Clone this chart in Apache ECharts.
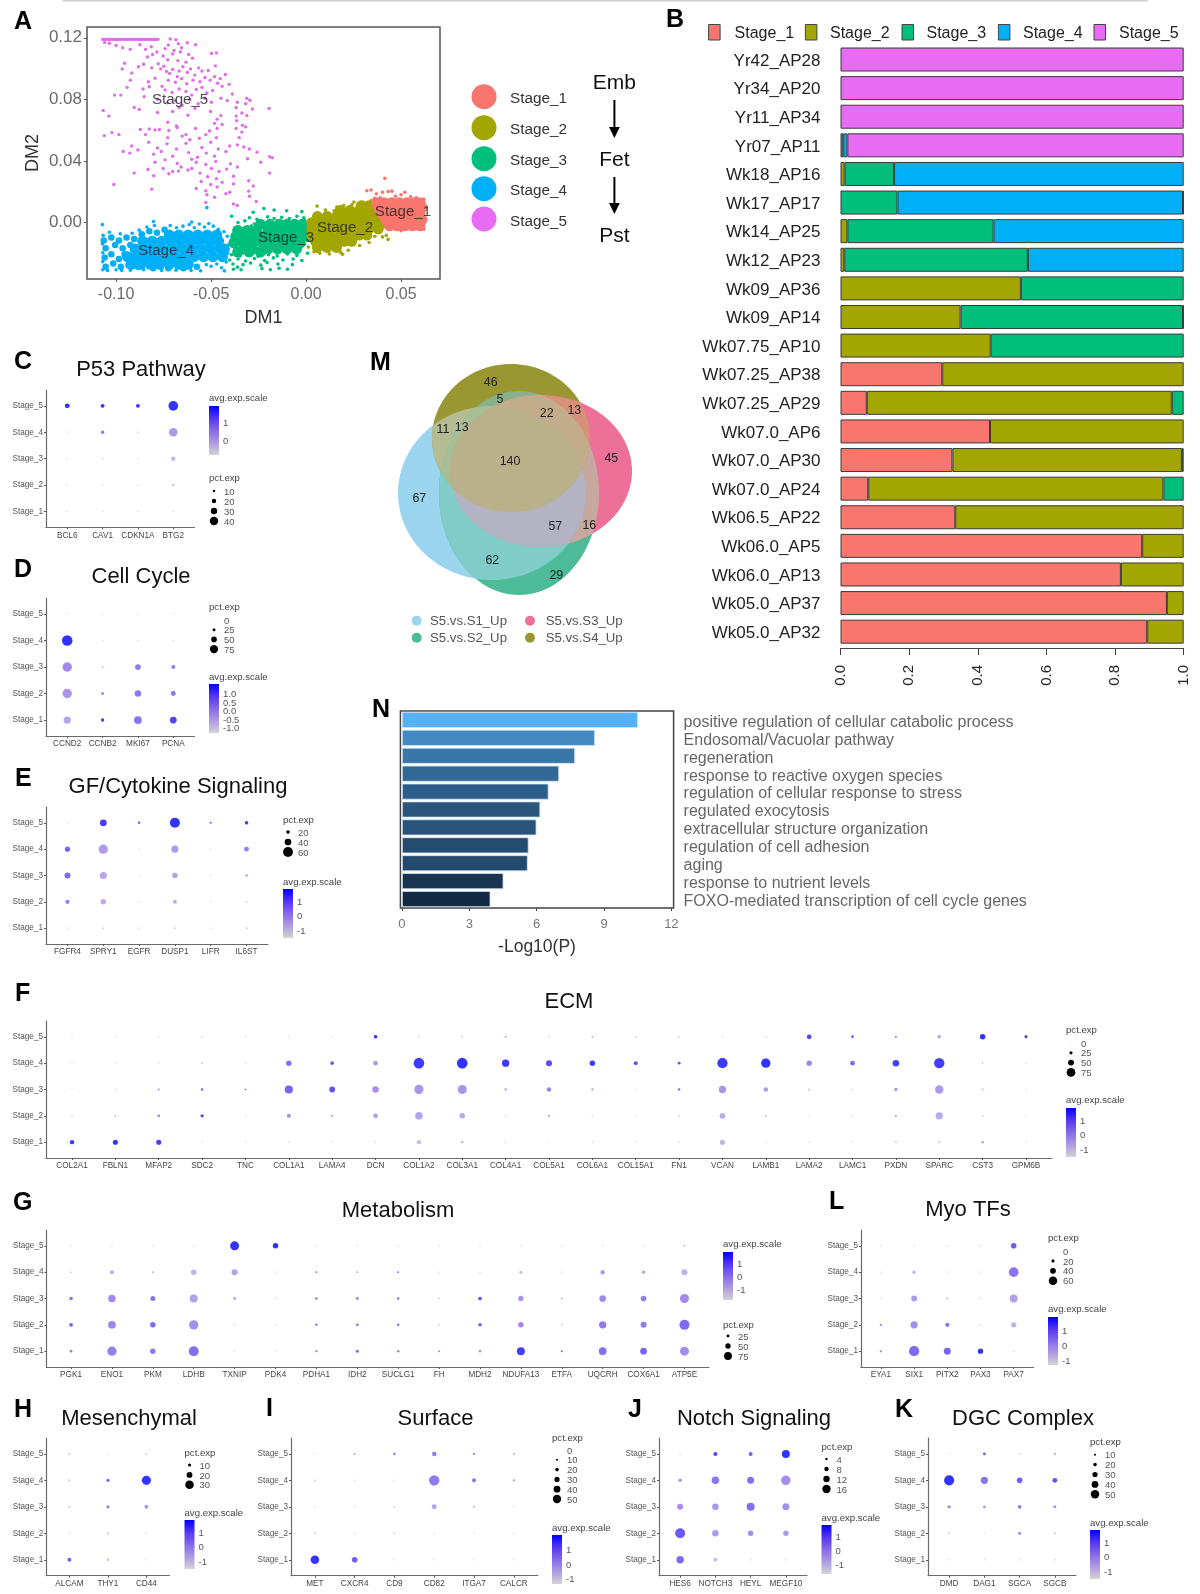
<!DOCTYPE html>
<html><head><meta charset="utf-8">
<style>html,body{margin:0;padding:0;background:#fff}#c{width:1200px;height:1594px}</style>
<script src="https://cdn.jsdelivr.net/npm/echarts@6/dist/echarts.min.js"></script>
</head><body><div id="c"></div>
<script>
// ---------- Panel A: points as [DM1, DM2] ----------
const stage5Top=[-.107,-.1062,-.1055,-.1047,-.104,-.1031,-.1024,-.1016,-.1008,-.1,-.0992,-.0985,-.0977,-.0969,-.096,-.0953,-.0945,-.0938,-.093,-.0921,-.0914,-.0906,-.0898,-.089,-.0882,-.0875,-.0867,-.0859,-.0851,-.0844,-.0836,-.0828,-.082,-.0812,-.0804,-.0796,-.0788,-.078];
const stage5=[[-.106,.117],[-.1035,.1165],[-.1,.115],[-.0965,.1135],[-.0925,.1125],[-.0875,.1155],[-.0845,.1125],[-.0815,.1142],[-.0715,.1192],[-.0725,.1153],[-.0685,.1188],[-.0672,.1162],[-.0655,.1135],[-.0625,.1168],[-.0582,.1155],[-.0695,.1118],[-.0742,.113],[-.0785,.1108],[-.0808,.1092],[-.0835,.1075],[-.0752,.1082],[-.0728,.1058],[-.0702,.1095],[-.0662,.1108],[-.0618,.1092],[-.0598,.1068],[-.0632,.1042],[-.0675,.1052],[-.0498,.1098],[-.0472,.1102],[-.0955,.1035],[-.0968,.0998],[-.0918,.0972],[-.0882,.1012],[-.0855,.1028],[-.0812,.1005],[-.0778,.1032],[-.0765,.0998],[-.0748,.1015],[-.0735,.0982],[-.0718,.0968],[-.0702,.0995],[-.0678,.0948],[-.0668,.0985],[-.0648,.1012],[-.0625,.0975],[-.0608,.0998],[-.0586,.0958],[-.0565,.1005],[-.0548,.0985],[-.0532,.0942],[-.0515,.0988],[-.0478,.1018],[-.0425,.0962],[-.0452,.0935],[-.0482,.0948],[-.0505,.0925],[-.0558,.0915],[-.0595,.0925],[-.0628,.0902],[-.0655,.0935],[-.0688,.0912],[-.0725,.0925],[-.0758,.0885],[-.0795,.0938],[-.083,.0915],[-.0925,.0925],[-.0942,.0878],[-.0858,.0868],[-.0825,.0882],[-.0742,.0862],[-.0705,.0845],[-.0668,.0868],[-.0632,.0852],[-.0602,.0828],[-.0578,.0865],[-.0548,.0878],[-.0522,.0842],[-.0492,.0858],[-.0465,.0905],[-.0442,.0885],[-.0405,.0898],[-.0388,.0835],[-.0415,.0792],[-.0362,.0782],[-.0312,.0808],[-.0296,.0795],[-.0448,.0808],[-.0498,.0782],[-.0532,.0808],[-.0568,.0772],[-.0612,.0798],[-.0652,.0762],[-.0688,.0792],[-.0732,.0778],[-.0782,.0802],[-.0852,.0818],[-.1008,.0828],[-.0975,.0828],[-.0905,.0748],[-.0878,.0735],[-.0702,.0722],[-.0668,.0748],[-.0585,.0742],[-.0502,.0722],[-.0368,.0748],[-.0338,.0712],[-.0318,.0772],[-.0282,.0738],[-.0195,.0742],[-.0312,.0695],[-.0368,.0692],[-.0448,.0695],[-.0468,.0672],[-.0622,.0698],[-.0782,.0715],[-.1068,.0728],[-.1038,.0692],[-.0482,.0645],[-.0442,.0638],[-.0468,.0612],[-.0365,.0662],[-.0335,.0632],[-.0728,.0652],[-.0682,.0628],[-.0872,.0605],[-.0825,.0608],[-.0795,.0602],[-.0772,.0605],[-.0722,.0598],[-.0678,.0618],[-.0632,.0572],[-.0582,.0612],[-.0508,.0595],[-.0368,.0612],[-.0338,.0588],[-.0318,.0622],[-.0352,.0552],[-.1062,.0565],[-.1022,.0585],[-.0985,.0572],[-.0845,.0572],[-.0728,.0552],[-.0652,.0562],[-.0612,.0538],[-.0562,.0548],[-.0528,.0572],[-.0472,.0552],[-.0362,.0505],[-.0328,.0492],[-.0298,.0478],[-.0918,.0498],[-.0828,.0522],[-.0782,.0485],[-.0732,.0512],[-.0682,.0478],[-.0632,.0515],[-.0548,.0488],[-.0502,.0522],[-.0462,.0478],[-.0402,.0498],[-.0962,.0462],[-.0928,.0452],[-.0885,.0472],[-.0802,.0445],[-.0762,.0462],[-.0702,.0432],[-.0618,.0455],[-.0572,.0425],[-.0525,.0452],[-.0482,.0432],[-.0422,.0462],[-.0258,.0458],[-.0192,.0428],[-.0795,.0392],[-.0742,.0408],[-.0678,.0385],[-.0602,.0412],[-.0578,.0392],[-.0528,.0378],[-.0475,.0398],[-.0398,.0382],[-.0308,.0415],[-.0238,.0392],[-.0178,.0422],[-.0832,.0345],[-.0752,.0352],[-.0702,.0332],[-.0658,.0362],[-.0622,.0342],[-.0558,.0322],[-.0498,.0352],[-.0458,.0332],[-.0418,.0348],[-.0362,.0362],[-.0905,.0322],[-.0802,.0305],[-.0722,.0318],[-.0672,.0335],[-.0602,.0352],[-.0518,.0298],[-.0472,.0285],[-.0382,.0302],[-.0192,.0322],[-.0302,.0272],[-.1012,.0248],[-.0552,.0268],[-.0502,.0248],[-.0442,.0262],[-.0382,.0252],[-.0278,.0238],[-.0812,.0218],[-.0578,.0222],[-.0528,.0208],[-.0468,.0232],[-.0402,.0198],[-.0302,.0205],[-.0522,.0182],[-.0482,.0165],[-.0422,.0188],[-.0298,.0172],[-.0528,.0132],[-.0382,.0122],[-.0362,.0112],[-.0262,.0138]];
const stage4Core=[
[-.027,-.092,-.087,-.082,-.077,-.072,-.067,-.062],
[-.022,-.094,-.089,-.084,-.079,-.074,-.069,-.064,-.059,-.054,-.049,-.044],
[-.017,-.09,-.085,-.08,-.075,-.07,-.065,-.06,-.055,-.05,-.045,-.043],
[-.012,-.086,-.081,-.076,-.071,-.066,-.061,-.056,-.051,-.046],
[-.008,-.072,-.067,-.062,-.057,-.052,-.047]];
const stage4Mid=[[-.1055,-.0285],[-.1015,-.0265],[-.0975,-.0285],[-.0935,-.0275],[-.106,-.0225],[-.1025,-.0205],[-.0985,-.0235],[-.0955,-.0205],[-.1055,-.0165],[-.1005,-.0145],[-.0965,-.0165],[-.0925,-.0145],[-.1065,-.0115],[-.1025,-.0095],[-.0985,-.0115],[-.0945,-.0095],[-.0905,-.0105],[-.0865,-.0075],[-.0825,-.0055],[-.0785,-.0065],[-.0745,-.0045],[-.0885,-.0285],[-.0805,-.0295],[-.0725,-.0295],[-.0645,-.0295],[-.0575,-.0285]];
const stage4Dots=[[-.107,-.0305],[-.1045,-.031],[-.1,-.0305],[-.097,-.031],[-.0925,-.0308],[-.0855,-.0305],[-.076,-.031],[-.0685,-.0308],[-.0605,-.031],[-.0555,-.0312],[-.0525,-.0272],[-.05,-.0282],[-.047,-.0268],[-.0445,-.0292],[-.043,-.0312],[-.042,-.0255],[-.107,-.0252],[-.107,-.0195],[-.1072,-.0138],[-.1068,-.0082],[-.1035,-.0062],[-.0978,-.0072],[-.0915,-.0068],[-.0878,-.0048],[-.0838,-.0028],[-.0798,-.0018],[-.0715,-.0018],[-.0682,-.0032],[-.0648,-.0022],[-.0615,-.0012],[-.0588,-.0032],[-.0562,-.0008],[-.0535,-.0028],[-.0512,-.0005],[-.0488,-.0022],[-.0462,-.0042],[-.0432,-.0058],[-.0415,-.0088],[-.041,-.0145],[-.0412,-.0198],[-.1072,-.0012],[-.0803,.0008],[-.0602,.0005],[-.0522,.0098]];
const stage3Core=[
[-.019,-.036,-.03,-.024],
[-.017,-.033,-.028,-.02,-.015,-.01,-.005],
[-.013,-.038,-.033,-.028,-.023,-.018,-.013,-.008,-.003],
[-.009,-.037,-.032,-.027,-.022,-.017,-.012,-.007,-.002,.001],
[-.005,-.036,-.031,-.026,-.02,-.015,-.01,-.005,-.001],
[-.001,-.024,-.019,-.014,-.01,-.006,-.002]];
const stage3Dots=[[-.0382,-.0302],[-.0361,-.0288],[-.0342,-.0305],[-.0232,-.0298],[-.0188,-.0305],[-.0142,-.0295],[-.0098,-.0302],[-.0385,-.0268],[-.0332,-.0272],[-.0292,-.0262],[-.0238,-.0275],[-.0205,-.0258],[-.0148,-.0268],[-.0072,-.0272],[-.0402,-.0242],[-.0358,-.0235],[-.0318,-.0248],[-.0272,-.0232],[-.0218,-.0245],[-.0172,-.0228],[-.0122,-.0242],[-.0068,-.0235],[-.0022,-.0245],[-.0392,-.0208],[-.0348,-.0215],[-.0298,-.0205],[-.0252,-.0218],[-.0198,-.0208],[-.0152,-.0215],[-.0098,-.0202],[-.0048,-.0212],[.0008,-.0198],[-.0352,-.0028],[-.0328,-.0038],[-.0288,-.0022],[-.0242,-.0032],[-.0202,-.0018],[.0012,-.0028],[-.0358,.0002],[-.0322,.0012],[-.0272,-.0008],[-.0232,.0008],[-.0188,.0005],[-.0152,.0012],[-.0008,.0018],[-.0392,.0042],[-.0298,.0032],[-.0258,.0022],[-.0202,.0038],[-.0168,.0028],[-.0128,.0035],[-.0088,.0028],[-.0048,.0042],[-.0012,.0032],[-.0278,.0068],[-.0222,.0092],[-.0168,.0082],[-.0102,.0078],[-.0022,.0072]];
const stage2Core=[
[-.016,.006,.011,.016],
[-.012,.005,.01,.015,.02,.024],
[-.008,.003,.008,.013,.018,.023,.028,.032],
[-.004,.003,.008,.013,.018,.023,.028,.033,.038],
[0,.003,.008,.013,.018,.023,.028,.033,.038,.041],
[.004,.006,.011,.016,.021,.026,.031,.036,.04],
[.008,.018,.023,.028,.033,.037],
[.011,.029,.033,.036]];
const stage2Dots=[[.0058,.0108],[.0162,.0102],[.0198,.0112],[.0242,.0118],[.0102,.0082],[.0148,.0078],[.0122,.0062],[.0252,.0135],[.0302,.0132],[.0342,.0142],[.0362,-.0088],[.0402,-.0092],[.0422,-.0082],[.0432,-.0108],[.0332,-.0128],[.0282,-.0148],[.0222,-.0178],[.0182,-.0192],[.0042,-.0188],[.0122,-.0202],[.0072,-.0198],[.0192,-.0205],[.0012,-.0158],[.0442,-.0038],[.0445,-.0008]];
const stage1Core=[
[-.002,.044,.048,.052,.056,.06],
[.002,.042,.046,.05,.054,.058,.061],
[.006,.04,.044,.048,.052,.056,.06],
[.01,.038,.042,.046,.05,.054,.058,.061],
[.013,.037,.041,.045,.049,.053,.057,.06]];
const stage1Dots=[[.0415,.0288],[.032,.0208],[.0342,.0212],[.037,.0188],[.0402,.0198],[.0432,.0202],[.0452,.0205],[.052,.0198],[.047,.0172],[.055,.0168],[.05,.0182],[.039,.0162],[.036,.0158],[.058,.0162],[.062,.0152],[.063,.0022],[.062,-.0042],[.058,-.0038],[.047,-.0042],[.05,-.0052]];
const stageNames=['Stage_1','Stage_2','Stage_3','Stage_4','Stage_5'];
const stageColors=['#F8766D','#A3A500','#00BF7D','#00B0F6','#E76BF3'];
const clusterLabels=[[.0510,.0069],[.0205,-.0033],[-.0105,-.0097],[-.0737,-.0181],[-.0663,.0796]];

// ---------- Panel B ----------
const samples=['Yr42_AP28','Yr34_AP20','Yr11_AP34','Yr07_AP11','Wk18_AP16','Wk17_AP17','Wk14_AP25','Wk12_AP23','Wk09_AP36','Wk09_AP14','Wk07.75_AP10','Wk07.25_AP38','Wk07.25_AP29','Wk07.0_AP6','Wk07.0_AP30','Wk07.0_AP24','Wk06.5_AP22','Wk06.0_AP5','Wk06.0_AP13','Wk05.0_AP37','Wk05.0_AP32'];
const frac1=[0,0,0,0,0,0,0,0,0,0,0,.2965,.0767,.4356,.326,.0808,.3344,.879,.817,.951,.8937];
const frac2=[0,0,0,0,.012,0,.02,.011,.5255,.35,.4376,.7035,.8885,.5644,.6687,.86,.6656,.121,.183,.049,.1063];
const frac3=[0,0,0,.008,.144,.166,.426,.535,.4745,.648,.5624,0,.0348,0,.0053,.0592,0,0,0,0,0];
const frac4=[0,0,0,.012,.844,.832,.554,.454,0,.002,0,0,0,0,0,0,0,0,0,0,0];
const frac5=[1,1,1,.98,0,.002,0,0,0,0,0,0,0,0,0,0,0,0,0,0,0];

// ---------- Panel M ----------
const vennCounts=['46','5','22','13','11','13','140','45','67','57','16','62','29'];
const vennNames=['S5.vs.S1_Up','S5.vs.S2_Up','S5.vs.S3_Up','S5.vs.S4_Up'];

// ---------- Panel N ----------
const terms=['positive regulation of cellular catabolic process','Endosomal/Vacuolar pathway','regeneration','response to reactive oxygen species','regulation of cellular response to stress','regulated exocytosis','extracellular structure organization','regulation of cell adhesion','aging','response to nutrient levels','FOXO-mediated transcription of cell cycle genes'];
const logP=[10.51,8.6,7.71,7.0,6.53,6.16,5.99,5.64,5.6,4.52,3.94];

// ---------- Dot plots: rows run Stage_5 down to Stage_1 ----------
const C_genes=['BCL6','CAV1','CDKN1A','BTG2'];
const C_pct=[[22,17,17,46],[2,14,4,40],[1,4,2,20],[1,1,1,10],[1,2,1,4]];
const C_avg=[[1.7,1.7,1.7,1.7],[-1,.5,-.5,-.1],[-1,-.9,-1,-.6],[-1,-1,-1,-.8],[-1,-1,-1,-1]];
const D_genes=['CCND2','CCNB2','MKI67','PCNA'];
const D_pct=[[3,3,3,4],[95,3,6,5],[85,12,50,32],[85,22,58,42],[65,28,70,60]];
const D_avg=[[-1.1,-1.1,-1.1,-1.1],[1.7,-1,-1,-1],[.2,-.6,.5,.5],[0,.5,.5,.6],[-.3,1.5,.6,1.4]];
const E_genes=['FGFR4','SPRY1','EGFR','DUSP1','LIFR','IL6ST'];
const E_pct=[[4,40,12,60,10,20],[30,55,4,42,3,28],[35,42,3,32,3,14],[24,32,3,22,3,8],[3,8,2,8,2,10]];
const E_avg=[[-.9,1.5,1.1,1.7,1.2,1.5],[.9,-.1,-1,-.1,-1,.4],[.8,-.3,-1,-.3,-1,-.2],[.4,-.4,-1,-.4,-1,-.8],[-1,-.9,-1,-.9,-1,-.9]];
const F_genes=['COL2A1','FBLN1','MFAP2','SDC2','TNC','COL1A1','LAMA4','DCN','COL1A2','COL3A1','COL4A1','COL5A1','COL6A1','COL15A1','FN1','VCAN','LAMB1','LAMA2','LAMC1','PXDN','SPARC','CST3','GPM6B'];
const F_pct=[
[1,2,1,8,1,2,2,28,8,10,14,6,12,10,6,1,4,38,22,15,28,45,22],
[1,4,3,10,4,45,28,38,92,92,62,50,45,30,22,88,80,45,38,55,90,10,2],
[3,8,14,18,10,70,48,55,80,78,16,35,16,3,18,62,38,12,10,26,72,12,8],
[6,10,20,26,4,32,14,40,65,45,3,14,4,2,10,48,12,3,3,16,62,10,6],
[35,42,42,8,2,3,3,5,34,16,3,3,3,2,2,42,4,1,2,12,16,18,4]];
const F_avg=[
[-1,-1,-1,-.7,-1,-1,-1,1.7,-.6,-.5,-.1,-.7,-.3,-.5,-.6,-1,-.9,1.4,.9,.5,-.2,1.7,1.7],
[-1,-1,-1,-.5,-1,.7,1.1,-.1,1.6,1.7,1.6,1.3,1.6,1.3,1.2,1.6,1.7,.3,.8,1.5,1.5,-.7,-1],
[-1,-.7,.1,.9,1.5,.9,1.2,.1,0,0,.1,.4,-.2,-1,.7,0,-.1,-.7,-.6,0,-.1,-.7,-.8],
[-.6,-.2,.3,1.4,-1,.2,.1,-.2,-.3,-.3,-1,.1,-.9,-1,-.6,-.4,-.3,-1,-1,-.2,-.4,-.7,-.9],
[1.6,1.7,1.5,-1,-1,-1,-1,-1,-.6,-.2,-1,-1,-1,-1,-1,-.5,-1,-1,-1,-.8,-.9,-.1,-1]];
const G_genes=['PGK1','ENO1','PKM','LDHB','TXNIP','PDK4','PDHA1','IDH2','SUCLG1','FH','MDH2','NDUFA13','ETFA','UQCRH','COX6A1','ATP5E'];
const G_pct=[
[2,4,3,5,85,50,2,2,1,1,2,8,1,4,5,18],
[10,35,15,50,55,4,16,14,14,5,8,25,3,40,28,55],
[30,70,45,75,28,2,22,24,22,12,32,48,12,62,52,85],
[32,72,50,88,8,2,20,24,20,10,30,50,8,68,55,95],
[22,88,50,95,4,1,18,26,20,15,22,75,14,72,62,85]];
const G_avg=[
[-1,-1,-1,-1,1.7,1.7,-1,-1,-1,-1,-1,-1,-1,-1,-1,-.8],
[-.6,-.4,-.5,-.5,-.2,-1,.3,-.2,.7,-1,-.9,-.6,-1,-.1,-.2,-.5],
[.6,.2,.6,-.2,-.5,-1,.5,.4,.6,-.7,1.2,0,-.1,.2,.4,.2],
[1,.3,.8,.1,-.9,-1,.5,.5,.6,-.5,1,.2,-.5,.5,.5,.8],
[.4,.4,.5,.7,-1,-1,.4,.8,.4,.3,-.1,1.5,1,.7,.9,.1]];
const H_genes=['ALCAM','THY1','CD44'];
const H_pct=[[6,1,6],[6,10,32],[6,10,13],[4,6,3],[13,8,1]];
const H_avg=[[-.9,-1,-1],[-.9,.9,1.7],[-.9,.5,0],[-1,-.9,-1],[1,-.7,-1]];
const I_genes=['MET','CXCR4','CD9','CD82','ITGA7','CALCR'];
const I_pct=[[3,8,10,25,10,8],[8,6,4,62,22,10],[3,2,8,28,10,2],[8,5,8,6,2,1],[50,32,1,1,1,1]];
const I_avg=[[-1,.1,1.1,.5,.5,0],[-.8,-1,-1,.5,.6,.1],[-1,-1,-.8,-.3,-.6,-1],[-.8,-1,-.8,-1,-1,-1],[1.7,1,-1,-1,-1,-1]];
const J_genes=['HES6','NOTCH3','HEYL','MEGF10'];
const J_pct=[[1,7,7,15],[6,14,13,18],[11,12,15,13],[19,12,10,10],[14,7,1,2]];
const J_avg=[[-1,1.4,1,1.7],[0,.6,.7,.1],[.1,0,.7,.1],[1.1,-.1,.1,-.1],[.8,-.7,-1,-1]];
const K_genes=['DMD','DAG1','SGCA','SGCB'];
const K_pct=[[5,15,6,10],[60,42,32,27],[18,14,20,15],[8,4,16,8],[4,1,1,6]];
const K_avg=[[-1,1,-.6,-.3],[1.7,.6,1,1.2],[.2,.2,.5,.3],[-.8,-1,.3,-.6],[-1,-1,-1,-.8]];
const L_genes=['EYA1','SIX1','PITX2','PAX3','PAX7'];
const L_pct=[[1,8,2,1,38],[1,22,6,1,68],[5,40,12,2,55],[14,50,28,8,36],[14,72,48,36,3]];
const L_avg=[[-1,-.9,-1,-1,1],[-1,-.6,-1,-1,.6],[-1,-.1,-.7,-1,-.2],[.1,.1,.6,-.9,-.5],[-.1,.8,.9,1.7,-1]];

// ---------- Layout of the dot plots ----------
const FONT='"Liberation Sans",Arial,sans-serif';
const dotPanels=[
 {genes:C_genes,pct:C_pct,avg:C_avg,k:.2,box:[46,390,194.5,527.3],title:'P53 Pathway',tx:141,ty:369,letter:'C',lx:14,ly:360,
  pctVals:[10,20,30,40],pctTop:[477,491],pctStep:10,lgx:209,avgTitle:397,bar:[406,455],avgLabels:[['1',422],['0',440]]},
 {genes:D_genes,pct:D_pct,avg:D_avg,k:.105,box:[46,598,194.5,736],title:'Cell Cycle',tx:141,ty:576,letter:'D',lx:14,ly:568,
  pctVals:[0,25,50,75],pctTop:[606,620],pctStep:9.7,lgx:209,avgTitle:676,bar:[684,733],avgLabels:[['1.0',693],['0.5',702],['0.0',710],['-0.5',719],['-1.0',727]]},
 {genes:E_genes,pct:E_pct,avg:E_avg,k:.158,box:[46,807,268,944],title:'GF/Cytokine Signaling',tx:178,ty:786,letter:'E',lx:15,ly:777,
  pctVals:[20,40,60],pctTop:[819,832],pctStep:10,lgx:283,avgTitle:881,bar:[889,938],avgLabels:[['1',901],['0',915],['-1',930]]},
 {genes:F_genes,pct:F_pct,avg:F_avg,k:.11,box:[46,1021,1052,1158],title:'ECM',tx:569,ty:1001,letter:'F',lx:15,ly:992,
  pctVals:[0,25,50,75],pctTop:[1029,1043],pctStep:9.8,lgx:1066,avgTitle:1099,bar:[1108,1157],avgLabels:[['1',1120],['0',1134.7],['-1',1149]]},
 {genes:G_genes,pct:G_pct,avg:G_avg,k:.1,box:[46.5,1230,709,1367],title:'Metabolism',tx:398,ty:1210,letter:'G',lx:13,ly:1201,
  pctVals:[25,50,75],pctTop:[1324,1336],pctStep:10,lgx:723,avgTitle:1243,bar:[1252,1300],avgLabels:[['1',1263],['0',1276],['-1',1289]]},
 {genes:H_genes,pct:H_pct,avg:H_avg,k:.27,box:[46.3,1438,169.5,1575.7],title:'Mesenchymal',tx:129,ty:1418,letter:'H',lx:14,ly:1408,
  pctVals:[10,20,30],pctTop:[1452,1465],pctStep:9.9,lgx:184.5,avgTitle:1512,bar:[1520,1569],avgLabels:[['1',1532],['0',1546],['-1',1561]]},
 {genes:I_genes,pct:I_pct,avg:I_avg,k:.16,box:[291,1438,537.7,1575.7],title:'Surface',tx:435.5,ty:1418,letter:'I',lx:266,ly:1407,
  pctVals:[0,10,20,30,40,50],pctTop:[1437,1450],pctStep:9.8,lgx:552,avgTitle:1527,bar:[1535,1584],avgLabels:[['1',1549],['0',1564],['-1',1578]]},
 {genes:J_genes,pct:J_pct,avg:J_avg,k:.5,box:[659,1438,807,1575.7],title:'Notch Signaling',tx:754,ty:1418,letter:'J',lx:628,ly:1408,
  pctVals:[4,8,12,16],pctTop:[1446,1459],pctStep:10,lgx:821.5,avgTitle:1517,bar:[1525,1574],avgLabels:[['1',1536],['0',1550],['-1',1564]]},
 {genes:K_genes,pct:K_pct,avg:K_avg,k:.16,box:[928,1438,1076,1575.7],title:'DGC Complex',tx:1023,ty:1418,letter:'K',lx:895,ly:1408,
  pctVals:[10,20,30,40,50],pctTop:[1441,1454.7],pctStep:9.9,lgx:1090,avgTitle:1522,bar:[1530,1579],avgLabels:[['1',1542],['0',1556],['-1',1571]]},
 {genes:L_genes,pct:L_pct,avg:L_avg,k:.135,box:[861,1230,1033.6,1367],title:'Myo TFs',tx:968,ty:1209,letter:'L',lx:829,ly:1200,
  pctVals:[0,20,40,60],pctTop:[1237,1251],pctStep:9.9,lgx:1048,avgTitle:1308,bar:[1317,1365],avgLabels:[['1',1330],['0',1345],['-1',1360]]}
];

// ---------- Helpers ----------
const rowsToPts=r=>r.flatMap(row=>row.slice(1).map(x=>[x,row[0]]));
const stops=[[0,[211,211,211]],[.25,[175,155,225]],[.5,[135,105,232]],[.75,[85,55,240]],[1,[0,0,255]]];
function avgColor(a){
  const t=Math.min(1,Math.max(0,(a+1.2)/2.9));
  for(let i=1;i<stops.length;i++) if(t<=stops[i][0]){
    const [t0,c0]=stops[i-1],[t1,c1]=stops[i],f=(t-t0)/(t1-t0);
    return 'rgb('+c0.map((c,j)=>Math.round(c+(c1[j]-c)*f)).join(',')+')';
  }
  return 'rgb(0,0,255)';
}
const gfx=[];
function T(x,y,text,o){o=o||{};gfx.push({type:'text',x,y:y+1,z:o.z||10,silent:true,style:{text,fontFamily:FONT,fontSize:o.size||9.5,fontWeight:o.weight||'normal',fill:o.color||'#444',align:o.align||'left',verticalAlign:'middle'}});}
function dot(x,y,d,c,op){gfx.push({type:'circle',silent:true,z:10,shape:{cx:x,cy:y,r:d/2},style:{fill:c,opacity:op==null?1:op}});}
function letter(t,x,y){T(x,y+1,t,{size:25,weight:'bold',color:'#000'});}

const grids=[],xAxes=[],yAxes=[],series=[],titles=[];
function addAxes(grid,x,y){grids.push(grid);const i=grids.length-1;x.gridIndex=i;y.gridIndex=i;xAxes.push(x);yAxes.push(y);return i;}

// ---------- Panel A ----------
(function(){
 const i=addAxes({left:87,top:27,width:353,height:252,show:true,borderColor:'#555',borderWidth:1.5,backgroundColor:'#fff'},
  {type:'value',min:-.1153,max:.0705,name:'DM1',nameLocation:'middle',nameGap:30,nameTextStyle:{fontSize:18,color:'#333',fontFamily:FONT},
   splitLine:{show:false},axisLine:{show:false,onZero:false},axisTick:{show:true,length:3,lineStyle:{color:'#555'},customValues:[-.1,-.05,0,.05]},
   axisLabel:{customValues:[-.1,-.05,0,.05],formatter:v=>v.toFixed(2),fontSize:16,color:'#6a6a6a',fontFamily:FONT,margin:8}},
  {type:'value',min:-.0365,max:.127,name:'DM2',nameLocation:'middle',nameGap:45,nameTextStyle:{fontSize:18,color:'#333',fontFamily:FONT},
   splitLine:{show:false},axisLine:{show:false,onZero:false},axisTick:{show:true,length:3,lineStyle:{color:'#555'},customValues:[0,.04,.08,.12]},
   axisLabel:{customValues:[0,.04,.08,.12],formatter:v=>v.toFixed(2),fontSize:17,color:'#6a6a6a',fontFamily:FONT,margin:5}});
 const sc=(name,data,col,size)=>series.push({type:'scatter',name,xAxisIndex:i,yAxisIndex:i,data,symbolSize:size,itemStyle:{color:col,opacity:1},silent:true,animation:false,z:3});
 sc('S4 dense',rowsToPts(stage4Core),stageColors[3],11);sc('S4 mid',stage4Mid,stageColors[3],6.5);sc('S4',stage4Dots,stageColors[3],3.6);
 sc('S3 dense',rowsToPts(stage3Core),stageColors[2],11);sc('S3',stage3Dots,stageColors[2],3.6);
 sc('S2 dense',rowsToPts(stage2Core),stageColors[1],11);sc('S2',stage2Dots,stageColors[1],3.6);
 sc('S1 dense',rowsToPts(stage1Core),stageColors[0],11);sc('S1',stage1Dots,stageColors[0],3.6);
 sc('S5 top',stage5Top.map(x=>[x,.119]),'#E06EEA',3.4);
 sc('S5',stage5,'#E06EEA',3.4);
 series.push({type:'scatter',xAxisIndex:i,yAxisIndex:i,symbolSize:0,silent:true,animation:false,z:5,
  data:clusterLabels.map((p,j)=>({value:p,name:stageNames[j]})),
  label:{show:true,position:'inside',formatter:'{b}',fontSize:15.1,color:'#222',fontFamily:FONT}});
 letter('A',14,20);
 const ly=[96.7,127.7,158.7,188.7,219];
 stageNames.forEach((n,j)=>{dot(484,ly[j],25,stageColors[j]);T(510,ly[j]+1.5,n,{size:15.3,color:'#333'});});
 T(614.4,82.7,'Emb',{size:21,color:'#111',align:'center'});T(614.4,159.7,'Fet',{size:21,color:'#111',align:'center'});T(614.4,235,'Pst',{size:21,color:'#111',align:'center'});
 [[100,137],[177,213]].forEach(([a,b])=>{
  gfx.push({type:'line',silent:true,shape:{x1:614.4,y1:a,x2:614.4,y2:b-4},style:{stroke:'#000',lineWidth:2}});
  gfx.push({type:'polygon',silent:true,shape:{points:[[609,b-10],[619.8,b-10],[614.4,b+1]]},style:{fill:'#000'}});
 });
})();

// ---------- Panel B ----------
(function(){
 const i=addAxes({left:840.5,top:45.2,width:343.2,height:600.8},
  {type:'value',min:0,max:1,interval:.2,splitLine:{show:false},position:'bottom',offset:2,
   axisLine:{show:true,onZero:false,lineStyle:{color:'#444'}},axisTick:{show:true,length:7,lineStyle:{color:'#444'}},
   axisLabel:{rotate:90,fontSize:15,color:'#222',fontFamily:FONT,margin:17,formatter:v=>v.toFixed(1),showMinLabel:true,showMaxLabel:true}},
  {type:'category',inverse:true,data:samples,axisLine:{show:false,onZero:false},axisTick:{show:false},
   axisLabel:{margin:20,interval:0,formatter:v=>'{t|'+v+'}',rich:{t:{fontSize:17,color:'#222',fontFamily:FONT,padding:[3,0,0,0]}}}});
 [frac1,frac2,frac3,frac4,frac5].forEach((f,j)=>series.push({type:'bar',name:stageNames[j],stack:'s',xAxisIndex:i,yAxisIndex:i,barWidth:24,
  data:f.map(v=>v===0?null:v),itemStyle:{color:stageColors[j],borderColor:'#3a3a3a',borderWidth:1},silent:true,animation:false}));
 letter('B',666,18);
 const sx=[708.6,805.4,902,998.4,1094],tx=[734.6,830,926.5,1023,1119];
 stageNames.forEach((n,j)=>{
  gfx.push({type:'rect',silent:true,shape:{x:sx[j],y:24.5,width:11.5,height:15.5},style:{fill:stageColors[j],stroke:'#444',lineWidth:1}});
  T(tx[j],33,n,{size:16,color:'#222'});
 });
})();

// ---------- Panel N ----------
(function(){
 const i=addAxes({left:400.4,top:711,width:273.2,height:197,show:true,borderColor:'#444',borderWidth:1.5},
  {type:'value',min:-.07,max:12.1,name:'-Log10(P)',nameLocation:'middle',nameGap:30,nameTextStyle:{fontSize:17.5,color:'#333',fontFamily:FONT},
   splitLine:{show:false},axisLine:{show:false,onZero:false},axisTick:{show:true,length:3,lineStyle:{color:'#444'},customValues:[0,3,6,9,12]},
   axisLabel:{customValues:[0,3,6,9,12],fontSize:13,color:'#777',fontFamily:FONT,margin:10}},
  {type:'category',inverse:true,data:terms,position:'right',axisLine:{show:false,onZero:false},axisTick:{show:false},
   axisLabel:{align:'left',margin:10,interval:0,formatter:v=>'{t|'+v+'}',rich:{t:{fontSize:16,color:'#666',fontFamily:FONT,padding:[5,0,0,0]}}}});
 const lo=Math.min(...logP),hi=Math.max(...logP);
 const mix=v=>{const f=(v-lo)/(hi-lo);const a=[19,40,65],b=[86,177,247];return 'rgb('+a.map((c,j)=>Math.round(c+(b[j]-c)*f)).join(',')+')';};
 series.push({type:'bar',xAxisIndex:i,yAxisIndex:i,barWidth:16,silent:true,animation:false,
  data:logP.map(v=>({value:v,itemStyle:{color:mix(v),borderColor:'#cfe3f2',borderWidth:.8}}))});
 letter('N',372,708);
})();

// ---------- Dot plots ----------
dotPanels.forEach(p=>{
 const [x0,y0,x1,y1]=p.box,n=p.genes.length;
 const xs=p.genes.map((_,j)=>j);
 const i=addAxes({left:x0,top:y0,width:x1-x0,height:y1-y0},
  {type:'value',min:-.6,max:n-.4,splitLine:{show:false},
   axisLine:{show:true,onZero:false,lineStyle:{color:'#6a6a6a',width:1.2}},axisTick:{show:true,length:2,lineStyle:{color:'#555'},customValues:xs},
   axisLabel:{customValues:xs,formatter:v=>p.genes[v],fontSize:8.2,color:'#444',fontFamily:FONT,margin:4}},
  {type:'value',min:-.6,max:4.6,splitLine:{show:false},
   axisLine:{show:true,onZero:false,lineStyle:{color:'#6a6a6a',width:1.2}},axisTick:{show:true,length:2,lineStyle:{color:'#555'},customValues:[0,1,2,3,4]},
   axisLabel:{customValues:[0,1,2,3,4],formatter:v=>stageNames[v],fontSize:8.2,color:'#555',fontFamily:FONT,margin:3}});
 const data=[];
 p.pct.forEach((row,r)=>row.forEach((v,c)=>data.push({value:[c,4-r,v,p.avg[r][c]],itemStyle:{color:avgColor(p.avg[r][c])}})));
 series.push({type:'scatter',xAxisIndex:i,yAxisIndex:i,data,symbolSize:v=>Math.max(1.5,v[2]*p.k+.5),silent:true,animation:false,clip:false,z:4});
 titles.push({text:p.title,left:p.tx,top:p.ty+1,textAlign:'center',textVerticalAlign:'middle',padding:0,textStyle:{fontSize:22,fontWeight:'normal',color:'#111',fontFamily:FONT}});
 letter(p.letter,p.lx,p.ly);
 // colour bar legend
 T(p.lgx,p.avgTitle,'avg.exp.scale',{size:9.6});
 gfx.push({type:'rect',silent:true,shape:{x:p.lgx,y:p.bar[0],width:10,height:p.bar[1]-p.bar[0]},
  style:{fill:new echarts.graphic.LinearGradient(0,0,0,1,[{offset:0,color:'#0000ff'},{offset:.25,color:'#5537f0'},{offset:.5,color:'#8769e8'},{offset:.75,color:'#af9be1'},{offset:1,color:'#d3d3d3'}])}});
 p.avgLabels.forEach(([t,y])=>T(p.lgx+14,y,t,{size:9.5,color:'#555'}));
 // size legend
 T(p.lgx,p.pctTop[0],'pct.exp',{size:9.6});
 p.pctVals.forEach((v,j)=>{const y=p.pctTop[1]+j*p.pctStep;
  dot(p.lgx+5,y,Math.max(.9,v*p.k+.4),v===0?'#bbb':'#000');T(p.lgx+15,y,String(v),{size:9.5,color:'#555'});});
});

// ---------- Panel M text ----------
letter('M',370,361);
const vennXY=[[490.7,381.7],[500,399],[546.7,412.3],[574.3,410],[443,428.3],[461.7,426.7],[510,461],[611.3,457.3],[419.3,498],[555.3,525.3],[589.3,525],[492.3,559.3],[556.3,575]];
vennCounts.forEach((c,j)=>T(vennXY[j][0],vennXY[j][1],c,{size:12.4,color:'#222',align:'center',z:20}));
[[416.7,620.7,'#9AD4EE',430,0],[416.7,637.7,'#4DBB98',430,1],[530,620.7,'#EC7098',545.7,2],[530,637.7,'#9A9732',545.7,3]].forEach(([x,y,c,tx,j])=>{dot(x,y,10,c);T(tx,y,vennNames[j],{size:13.2,color:'#555'});});
// cropped rule at the very top of the page
gfx.push({type:'rect',silent:true,shape:{x:63,y:0,width:1085,height:1.6},style:{fill:'#ccc'}});

const chart=echarts.init(document.getElementById('c'),null,{renderer:'canvas',width:1200,height:1594});
chart.setOption({backgroundColor:'#fff',animation:false,title:titles,grid:grids,xAxis:xAxes,yAxis:yAxes,series,graphic:{elements:gfx},tooltip:{show:false}});

// ---------- Panel M regions: every overlap has its own colour ----------
const ellipses=[[492,493,94,87,0],[519,493,80,102,0],[541,471,91,76,0],[511,438,79,74,0]];
const regionColors=[
 [[0],'#9AD4EE'],[[1],'#4DBB98'],[[2],'#EC7098'],[[3],'#9A9732'],
 [[0,1],'#7FCCC8'],[[0,2],'#A9B3D0'],[[0,3],'#B5BB92'],[[1,2],'#C6A89E'],[[1,3],'#88B08A'],[[2,3],'#D8907A'],
 [[0,1,2],'#B2B2C2'],[[0,1,3],'#A6BE96'],[[0,2,3],'#BDB095'],[[1,2,3],'#C2AC8A'],[[0,1,2,3],'#B9B08C']];
function ellPts(e){const [cx,cy,rx,ry,deg]=e,r=deg*Math.PI/180,pts=[];
 for(let a=0;a<360;a+=3){const t=a*Math.PI/180,x=rx*Math.cos(t),y=ry*Math.sin(t);
  pts.push([cx+x*Math.cos(r)-y*Math.sin(r),cy+x*Math.sin(r)+y*Math.cos(r)]);}
 return pts;}
const zr=chart.getZr();
regionColors.forEach(([sets,col])=>{
 const el=new echarts.graphic.Polygon({silent:true,z:-1,shape:{points:ellPts(ellipses[sets[0]])},style:{fill:col}});
 let cur=el;
 sets.slice(1).forEach(s=>{const c=new echarts.graphic.Polygon({shape:{points:ellPts(ellipses[s])}});cur.setClipPath(c);cur=c;});
 zr.add(el);
});
</script></body></html>
